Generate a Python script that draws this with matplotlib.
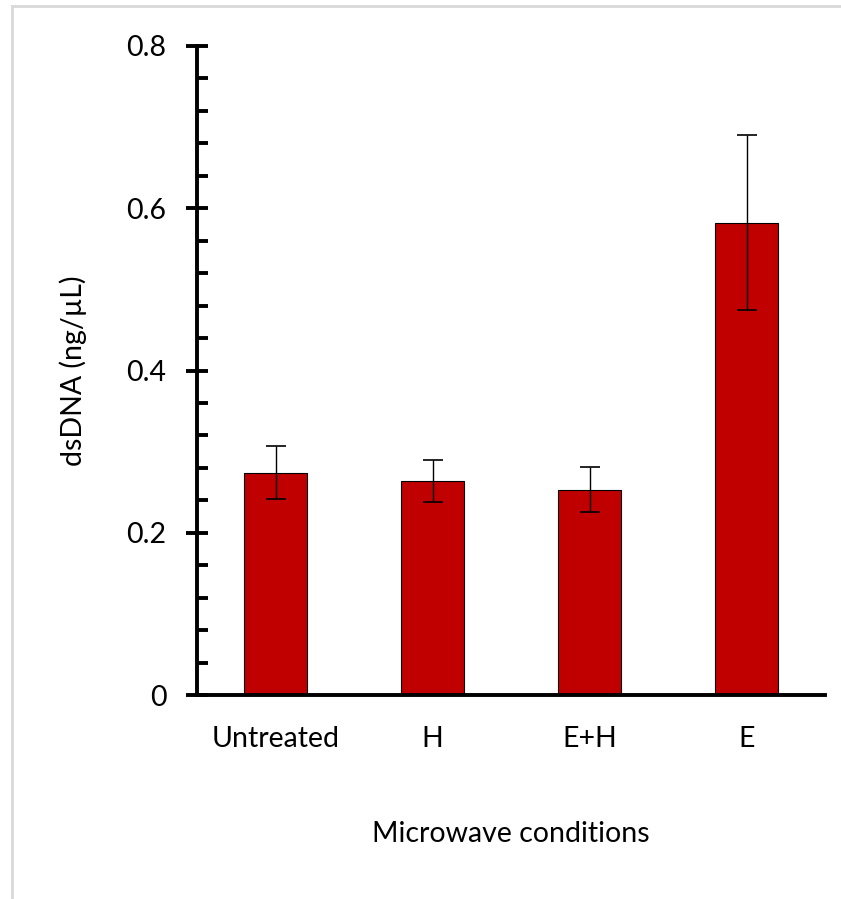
import matplotlib.pyplot as plt
from matplotlib.lines import Line2D
import numpy as np

# data
conditions = ["Untreated", "H", "E+H", "E"]
dsdna = [0.274, 0.264, 0.253, 0.582]
dsdna_err = [0.033, 0.026, 0.028, 0.108]

plt.rcParams['font.family'] = ['Lato', 'DejaVu Sans']
fs = 20.5

fig = plt.figure(figsize=(8.41, 8.99), dpi=100)
ax = fig.add_axes([197/841, 1 - 695/899, 628/841, 649/899])

x = np.arange(len(conditions))
ax.bar(x, dsdna, width=0.4, color="#C00000", edgecolor="black", linewidth=0.8,
       yerr=dsdna_err, capsize=7, error_kw=dict(elinewidth=1.0, capthick=1.2, ecolor="black"))

ax.set_xlim(-0.5, 3.5)
ax.set_ylim(0, 0.8)

# axes styling
for s in ["top", "right"]:
    ax.spines[s].set_visible(False)
ax.spines["left"].set_linewidth(2.8)
ax.spines["bottom"].set_linewidth(2.8)

ax.set_yticks([0, 0.2, 0.4, 0.6, 0.8])
ax.set_yticklabels(["0", "0.2", "0.4", "0.6", "0.8"])
ax.set_yticks(np.arange(0.04, 0.8, 0.04), minor=True)
ax.tick_params(axis="y", which="major", direction="inout", length=16, width=2.8,
               labelsize=fs, pad=14)
ax.tick_params(axis="y", which="minor", direction="in", length=8, width=2.8)
ax.set_xticks(x)
ax.set_xticklabels(conditions)
ax.tick_params(axis="x", which="both", length=0, labelsize=fs, pad=22.5)

ax.set_ylabel("dsDNA (ng/µL)", fontsize=fs, labelpad=28)
ax.set_xlabel("Microwave conditions", fontsize=fs, labelpad=49.5)

# light frame from the screenshot
fig.add_artist(Line2D([12/841, 12/841], [0, 1 - 6/899], transform=fig.transFigure,
                      color="#d9d9d9", lw=2))
fig.add_artist(Line2D([12/841, 1], [1 - 6/899, 1 - 6/899], transform=fig.transFigure,
                      color="#d9d9d9", lw=2))

fig.savefig("out.png", dpi=100)
